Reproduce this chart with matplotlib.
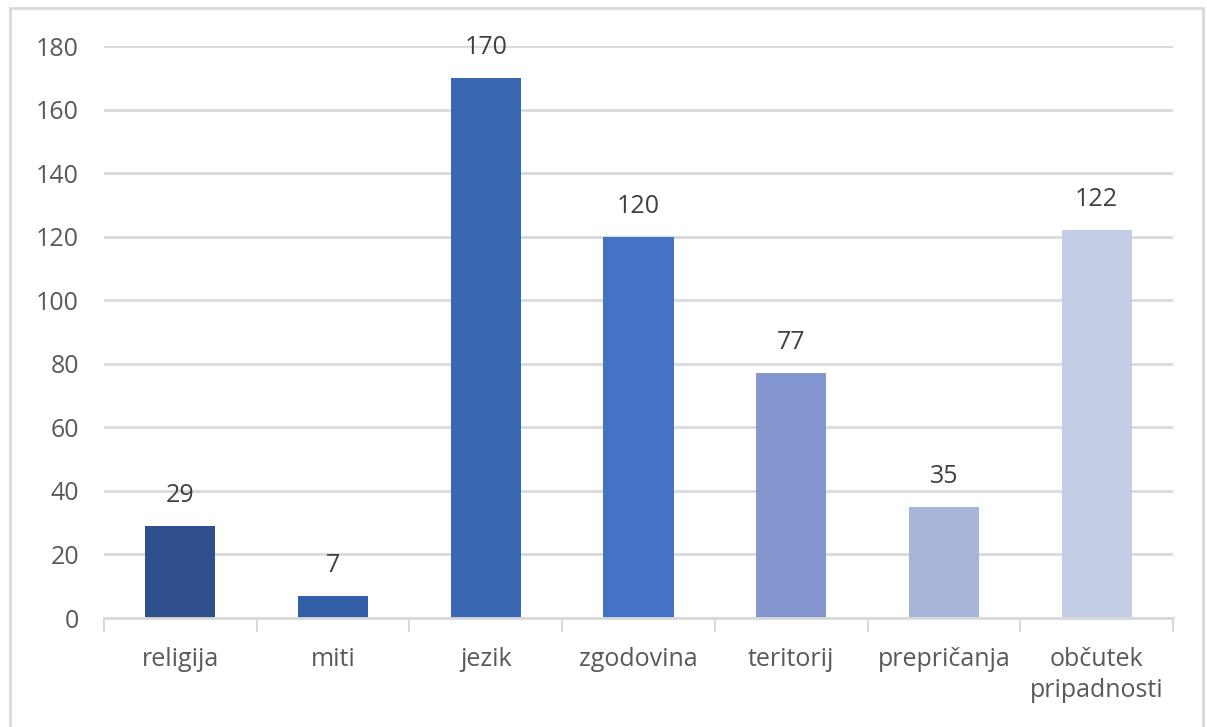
import matplotlib.pyplot as plt
from matplotlib.patches import Rectangle

categories = ["religija", "miti", "jezik", "zgodovina", "teritorij", "prepričanja", "občutek\npripadnosti"]
values = [29, 7, 170, 120, 77, 35, 122]
bar_colors = ["#2E4F8C", "#335FA8", "#3A67B2", "#4472C4", "#8497D0", "#A7B5DA", "#C3CDE6"]
y_ticks = [0, 20, 40, 60, 80, 100, 120, 140, 160, 180]

plt.rcParams["font.family"] = ["Open Sans", "DejaVu Sans"]

fig = plt.figure(figsize=(12.07, 7.27), dpi=100)
ax = fig.add_axes([104 / 1207, 1 - 618 / 727, (1173 - 104) / 1207, (618 - 46) / 727])

# outer chart frame
fig.patches.append(Rectangle((10 / 1207, -0.05), (1203 - 10) / 1207, 1.05 - 8 / 727,
                             transform=fig.transFigure, fill=False,
                             edgecolor="#D9D9D9", linewidth=2))

x = list(range(len(categories)))
bars = ax.bar(x, values, width=0.46, color=bar_colors, zorder=3)

for xi, v in zip(x, values):
    ax.text(xi, v + 7.5, str(v), ha="center", va="baseline", fontsize=18, color="#404040")

ax.set_xlim(-0.5, len(categories) - 0.5)
ax.set_ylim(0, 180)
ax.set_yticks(y_ticks)
ax.yaxis.grid(True, color="#D9D9D9", linewidth=2, zorder=0)
ax.tick_params(axis="y", length=0, labelsize=18, labelcolor="#595959", pad=18)

ax.set_xticks([i - 0.5 for i in range(len(categories) + 1)], minor=False)
ax.set_xticklabels([])
ax.set_xticks(x, minor=True)
ax.set_xticklabels(categories, minor=True, fontsize=18, color="#595959", linespacing=1.3)
ax.tick_params(axis="x", which="major", length=10, width=1.5, color="#D9D9D9")
ax.tick_params(axis="x", which="minor", length=0, pad=21)

for side in ["top", "right", "left"]:
    ax.spines[side].set_visible(False)
ax.spines["bottom"].set_color("#D9D9D9")
ax.spines["bottom"].set_linewidth(2)
ax.spines["bottom"].set_zorder(4)

fig.savefig("out.png", dpi=100)
